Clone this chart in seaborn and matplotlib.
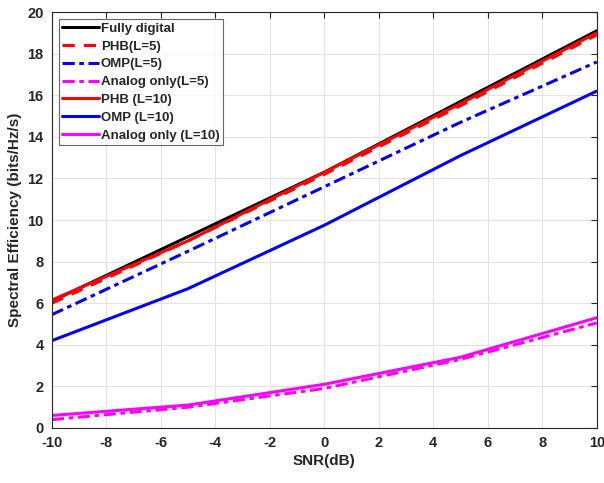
import seaborn as sns
import numpy as np
import pandas as pd
import matplotlib.pyplot as plt

snr = [-10, -5, 0, 5, 10]

fully_digital = [6.1, 9.2, 12.3, 15.7, 19.1]
phb_l5 = [6.0, 9.0, 12.2, 15.5, 18.9]
omp_l5 = [5.45, 8.5, 11.6, 14.7, 17.6]
analog_l5 = [0.4, 1.0, 1.9, 3.3, 5.05]
phb_l10 = [6.15, 9.0, 12.3, 15.6, 19.0]
omp_l10 = [4.2, 6.7, 9.75, 13.1, 16.2]
analog_l10 = [0.6, 1.1, 2.1, 3.4, 5.3]

series = [
    ("Fully digital", fully_digital, "black", "-"),
    ("PHB(L=5)", phb_l5, "red", (0, (4, 3))),
    ("OMP(L=5)", omp_l5, "blue", (0, (4, 1.5, 1.5, 1.5))),
    ("Analog only(L=5)", analog_l5, "magenta", (0, (4, 1.5, 1.5, 1.5))),
    ("PHB (L=10)", phb_l10, "red", "-"),
    ("OMP (L=10)", omp_l10, "blue", "-"),
    ("Analog only (L=10)", analog_l10, "magenta", "-"),
]

sns.set_style("white")
plt.rcParams['font.family'] = ['Liberation Sans', 'DejaVu Sans']
plt.rcParams['font.weight'] = 'bold'
plt.rcParams['axes.unicode_minus'] = False

fig = plt.figure(figsize=(6.04, 4.83), dpi=100)
ax = fig.add_axes([0.086, 0.114, 0.902, 0.861])

# draw each curve
for name, vals, color, ls in series:
    df = pd.DataFrame({"SNR": snr, "SE": vals})
    sns.lineplot(data=df, x="SNR", y="SE", ax=ax, color=color, linewidth=2.2,
                 linestyle=ls, label=name)

ax.set_xlim(-10, 10)
ax.set_ylim(0, 20)
ax.set_xticks(np.arange(-10, 11, 2))
ax.set_yticks(np.arange(0, 21, 2))
ax.grid(True, color="#e3e3e3", linewidth=0.8)
ax.tick_params(direction="in", top=True, right=True, length=4, width=0.8,
               colors="#262626", labelsize=10.5, pad=6)
for lbl in ax.get_xticklabels() + ax.get_yticklabels():
    lbl.set_fontweight("bold")
for s in ax.spines.values():
    s.set_color("#262626")
    s.set_linewidth(0.8)

ax.set_xlabel("SNR(dB)", fontsize=11, fontweight="bold", color="#262626", labelpad=3)
ax.set_ylabel("Spectral Efficiency (bits/Hz/s)", fontsize=11, fontweight="bold", color="#262626", labelpad=4)

leg = ax.legend(loc="upper left", fontsize=9.5, frameon=True, fancybox=False,
                borderpad=0.3, labelspacing=0.42, handlelength=2.8, handletextpad=0.1,
                borderaxespad=0.5)
leg.get_frame().set_edgecolor("#404040")
leg.get_frame().set_linewidth(0.8)
for t in leg.get_texts():
    t.set_fontweight("bold")

fig.savefig("out.png", dpi=100)
